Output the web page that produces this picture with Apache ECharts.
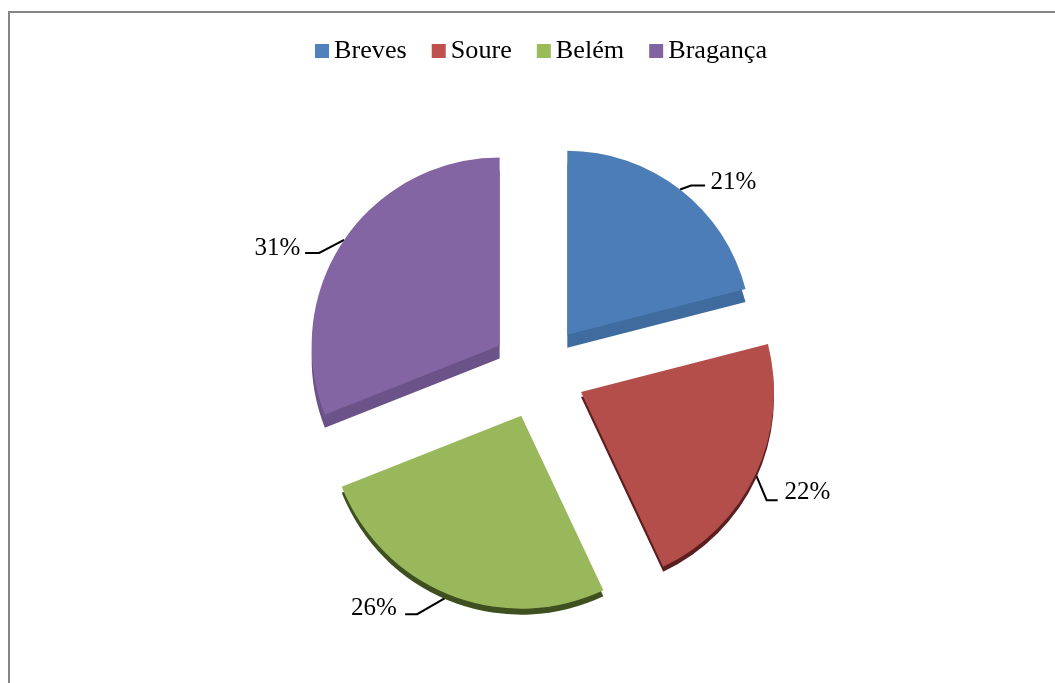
<!DOCTYPE html>
<html>
<head>
<meta charset="utf-8">
<style>
  html, body { margin: 0; padding: 0; background: #fff; }
  #main { width: 1055px; height: 683px; }
</style>
<script src="https://cdn.jsdelivr.net/npm/echarts@6/dist/echarts.min.js"></script>
</head>
<body>
<div id="main"></div>
<script>
var categories = ['Breves', 'Soure', 'Belém', 'Bragança'];
var percents = [21, 22, 26, 31];
var topColors = ['#4c7db6', '#b34e4b', '#99b85c', '#8365a3'];
var legendColors = ['#4f81bd', '#c0504d', '#9bbb59', '#8064a2'];
var sideColors = ['#3f6b9e', '#5a1f1e', '#3f5020', '#6b5288'];
var sideDrop = [13, 5, 6, 13];
var sliceRadius = [184, 193, 193, 188];

var centerX = 538.5, centerY = 372, explode = 47;
// deslocamento do texto e dobra da linha guia, relativos ao ponto na borda da fatia
var labelShift = [[4, 2], [-1, 13], [-30, 2], [-15, 15]];
var lineBend = [[11, -4, 25, -4], [11, 26, 22, 26], [-33, 19, -45, 19], [-25, 13, -39, 13]];

var hidden = 'rgba(0,0,0,0)';
var myChart = echarts.init(document.getElementById('main'), null, {renderer: 'canvas'});

function sliceSeries(k, isTop) {
    var fill = isTop ? topColors[k] : sideColors[k];
    return {
        type: 'pie',
        silent: true,
        animation: false,
        startAngle: 90,
        clockwise: true,
        radius: [0, sliceRadius[k]],
        center: [centerX, centerY + (isTop ? 0 : sideDrop[k])],
        selectedMode: 'multiple',
        selectedOffset: explode,
        label: {
            show: isTop,
            position: 'outside',
            formatter: '{d}%',
            fontFamily: '"Liberation Serif"',
            fontSize: 25,
            color: '#000'
        },
        labelLine: {show: isTop, length: 12, length2: 14, lineStyle: {color: '#000', width: 2}},
        labelLayout: isTop ? function (params) {
            if (params.dataIndex !== k || !params.labelLinePoints) {
                return {};
            }
            var p = params.labelLinePoints[0], b = lineBend[k];
            return {
                dx: labelShift[k][0],
                dy: labelShift[k][1],
                labelLinePoints: [p, [p[0] + b[0], p[1] + b[1]], [p[0] + b[2], p[1] + b[3]]]
            };
        } : null,
        data: percents.map(function (v, i) {
            var c = i === k ? fill : hidden;
            return {
                name: categories[i],
                value: v,
                selected: true,
                itemStyle: {color: c},
                select: {itemStyle: {color: c}},
                label: {show: isTop && i === k},
                labelLine: {show: isTop && i === k}
            };
        })
    };
}

var series = [];
categories.forEach(function (c, k) { series.push(sliceSeries(k, false)); });
categories.forEach(function (c, k) { series.push(sliceSeries(k, true)); });

myChart.setOption({
    animation: false,
    backgroundColor: '#fff',
    legend: {
        left: 310,
        top: 33,
        itemWidth: 14,
        itemHeight: 14,
        itemGap: 25,
        selectedMode: false,
        icon: 'rect',
        data: categories.map(function (c, i) {
            return {name: c, itemStyle: {color: legendColors[i]}};
        }),
        textStyle: {fontFamily: '"Liberation Serif"', fontSize: 26.2, color: '#000'}
    },
    graphic: [{
        type: 'rect',
        silent: true,
        z: -10,
        shape: {x: 9, y: 12, width: 1100, height: 720},
        style: {fill: '#fff', stroke: '#868686', lineWidth: 2}
    }],
    series: series
});
</script>
</body>
</html>
